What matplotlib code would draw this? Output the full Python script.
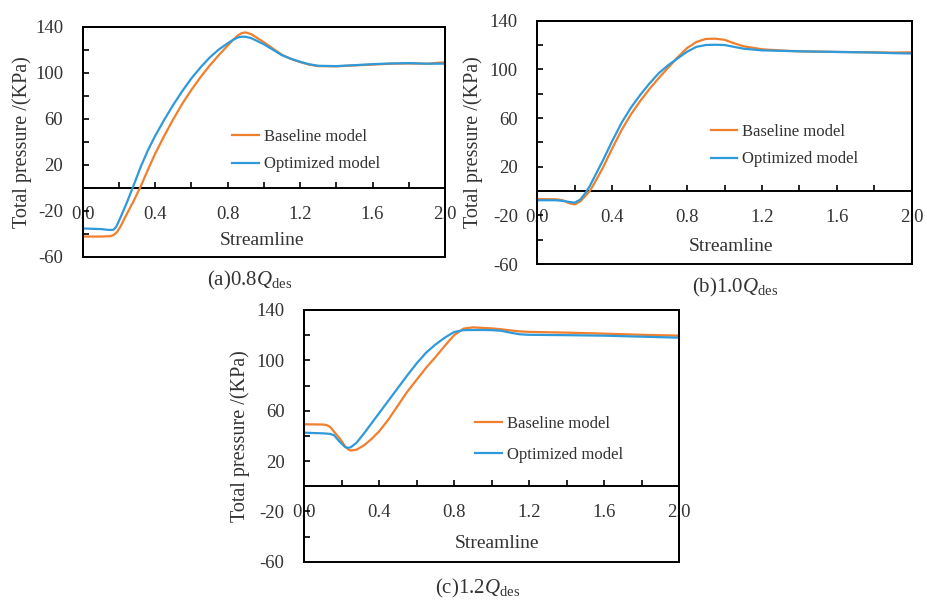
import matplotlib
matplotlib.use("Agg")
import matplotlib.pyplot as plt
from matplotlib.patches import Rectangle
from matplotlib.ticker import MultipleLocator, FixedLocator, FormatStrFormatter

plt.rcParams['font.family'] = ['Liberation Serif', 'DejaVu Serif']
plt.rcParams['mathtext.fontset'] = 'custom'
plt.rcParams['mathtext.rm'] = 'Liberation Serif'
plt.rcParams['mathtext.it'] = 'Liberation Serif:italic'
plt.rcParams['axes.unicode_minus'] = False

# ---------------- data ----------------
series_labels = ["Baseline model", "Optimized model"]
y_major = [-60, -20, 20, 60, 100, 140]
y_minor = [-40, 0, 40, 80, 120]
captions = [r"(a)0.8$Q_{\mathrm{des}}$", r"(b)1.0$Q_{\mathrm{des}}$", r"(c)1.2$Q_{\mathrm{des}}$"]

# (a) 0.8 Qdes
xa_base = [0.0, 0.1, 0.15, 0.17, 0.19, 0.21, 0.24, 0.28, 0.32, 0.36, 0.4, 0.45, 0.5, 0.55, 0.6, 0.65,
           0.7, 0.75, 0.8, 0.83, 0.86, 0.88, 0.9, 0.93, 0.96, 1.0, 1.05, 1.1, 1.15, 1.2, 1.25, 1.3,
           1.4, 1.5, 1.6, 1.7, 1.8, 1.9, 2.0]
base_a = [-42.5, -42.5, -42.2, -41.3, -38.5, -33.5, -24, -12, 1, 15.5, 29.5, 45, 59.5, 73, 85, 96,
          106, 115, 123.5, 128.5, 132.8, 134.5, 135, 133.5, 130.5, 126.5, 121, 115.5, 112, 109.2, 107, 105.7,
          105.5, 106.3, 107, 107.8, 108, 107.8, 109]
xa_opt = [0.0, 0.1, 0.15, 0.17, 0.185, 0.2, 0.24, 0.28, 0.32, 0.36, 0.4, 0.45, 0.5, 0.55, 0.6, 0.65,
          0.7, 0.75, 0.8, 0.83, 0.86, 0.88, 0.9, 0.93, 0.96, 1.0, 1.05, 1.1, 1.15, 1.2, 1.25, 1.3,
          1.4, 1.5, 1.6, 1.7, 1.8, 1.9, 2.0]
opt_a = [-35.5, -36, -36.8, -36.6, -34, -29, -14.5, 1.5, 18, 32.5, 45, 59, 72, 84, 95, 104.5,
         113, 120, 125.5, 128.5, 130.8, 131.3, 131.2, 130, 127.8, 124.7, 120, 115.2, 112, 109.5, 107.3, 106,
         105.7, 106.5, 107.4, 108, 108.3, 107.8, 107.8]

# (b) 1.0 Qdes
xb = [0.0, 0.1, 0.14, 0.17, 0.2, 0.23, 0.26, 0.28, 0.3, 0.35, 0.4, 0.45, 0.5, 0.55, 0.6, 0.65, 0.7,
      0.73, 0.75, 0.8, 0.85, 0.9, 0.95, 1.0, 1.05, 1.1, 1.2, 1.3, 1.4, 1.6, 1.8, 1.9, 2.0]
base_b = [-6.6, -6.8, -7.8, -10, -11, -8.5, -3.5, 0, 5, 19, 35, 50, 63, 74, 84, 93, 101.5,
          106.5, 110, 117.5, 122.5, 125, 125.2, 124.3, 121.5, 119, 116.5, 115.5, 114.8, 114.3, 114, 113.8, 114]
opt_b = [-7.6, -7.6, -8.2, -9, -9.6, -7, -1, 4, 10, 25, 41, 56, 68.5, 79, 88.5, 97, 103.5,
         106.8, 109, 114.5, 118.5, 120, 120.2, 120, 118.5, 117, 115.6, 115.2, 114.8, 114.3, 113.8, 113.3, 113]

# (c) 1.2 Qdes
xc = [0.0, 0.1, 0.12, 0.14, 0.16, 0.19, 0.22, 0.235, 0.25, 0.28, 0.32, 0.36, 0.4, 0.45, 0.5, 0.55, 0.6,
      0.65, 0.7, 0.75, 0.8, 0.85, 0.9, 0.95, 1.0, 1.05, 1.1, 1.15, 1.2, 1.4, 1.6, 1.8, 2.0]
base_c = [49.2, 49, 48.6, 47, 43.3, 38, 31.5, 29.3, 28.3, 29, 32.5, 37.5, 43.5, 53, 64, 75, 84.5,
          94, 102.5, 111.5, 120, 125.2, 126.2, 125.8, 125.4, 124.7, 123.8, 123, 122.6, 122, 121.2, 120.3, 119.6]
opt_c = [42.5, 42, 41.8, 41.5, 40.5, 35.3, 31, 30.5, 31, 34.5, 42, 50, 58, 68, 78, 88, 97.5,
         106, 112.5, 118, 122.5, 124, 124.1, 124.1, 124, 123.5, 122, 120.7, 120.3, 120, 119.6, 118.8, 118]

panels = [
    dict(xb=xa_base, base=base_a, xo=xa_opt, opt=opt_a),
    dict(xb=xb, base=base_b, xo=xb, opt=opt_b),
    dict(xb=xc, base=base_c, xo=xc, opt=opt_c),
]

# ---------------- layout ----------------
W, H = 928, 601
orange = "#F07F2E"
blue = "#2F9AD9"
txt = "#333333"

axes_px = [(82.67, 26.67, 445.0, 256.67), (537.3, 20.67, 911.7, 264.0), (304.0, 310.0, 679.3, 561.7)]
legend_anchor = [(0.412, 0.554, 0.67), (0.463, 0.574, 0.67), (0.456, 0.580, 0.90)]
xlabel_pos = [0.495, 0.517, 0.513]
ylabel_pos = [-0.167, -0.172, -0.171]
caption_px = [(250, 280), (735, 287), (478, 588)]

fig = plt.figure(figsize=(W / 100, H / 100), dpi=100)

for i, p in enumerate(panels):
    l, t, r, b = axes_px[i]
    ax = fig.add_axes([l / W, 1 - b / H, (r - l) / W, (b - t) / H])
    h1, = ax.plot(p["xb"], p["base"], color=orange, lw=1.6, label=series_labels[0], zorder=4,
                  solid_joinstyle='round')
    h2, = ax.plot(p["xo"], p["opt"], color=blue, lw=1.6, label=series_labels[1], zorder=4,
                  solid_joinstyle='round')
    ax.set_xlim(0, 2.0)
    ax.set_ylim(-60, 140)

    for s in ax.spines.values():
        s.set_linewidth(1.4)
        s.set_color("black")
    ax.spines['bottom'].set_position(('data', 0))
    ax.add_patch(Rectangle((0, 0), 1, 1, transform=ax.transAxes, fill=False,
                           lw=1.4, ec="black", clip_on=False, zorder=5))

    ax.xaxis.set_major_locator(MultipleLocator(0.4))
    ax.xaxis.set_minor_locator(MultipleLocator(0.2))
    ax.xaxis.set_major_formatter(FormatStrFormatter('%.1f'))
    ax.yaxis.set_major_locator(FixedLocator(y_major))
    ax.yaxis.set_minor_locator(FixedLocator(y_minor))
    ax.tick_params(axis='x', which='both', direction='in', length=4, width=1.2,
                   top=False, bottom=True, pad=13, labelsize=13.5, labelcolor=txt)
    ax.tick_params(axis='y', which='both', direction='in', length=4, width=1.2,
                   right=False, left=True, pad=14, labelsize=13.5, labelcolor=txt)

    ax.set_xlabel("Streamline", fontsize=14, color=txt, va='center')
    ax.xaxis.set_label_coords(xlabel_pos[i], 0.072)
    ax.set_ylabel("Total pressure /(KPa)", fontsize=14.5, color=txt, va='center')
    ax.yaxis.set_label_coords(ylabel_pos[i], 0.5)

    fx, fy, sp = legend_anchor[i]
    ax.legend(handles=[h1, h2], loc='upper left', bbox_to_anchor=(fx, fy), frameon=False,
              fontsize=12, handlelength=1.6, handletextpad=0.3, labelspacing=sp,
              borderpad=0, borderaxespad=0, labelcolor=txt)

    cx, cy = caption_px[i]
    fig.text(cx / W, 1 - cy / H, captions[i], ha='center', va='center', fontsize=15, color=txt)

fig.savefig("out.png", dpi=100)
